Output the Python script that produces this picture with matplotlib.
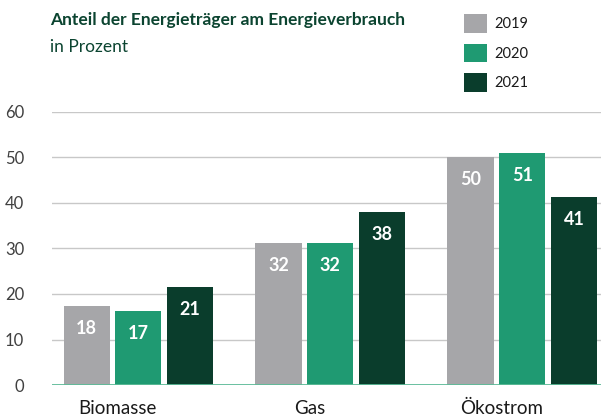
import matplotlib.pyplot as plt
import matplotlib.transforms as mtransforms
import numpy as np

plt.rcParams['font.family'] = ['Lato', 'DejaVu Sans']

categories = ['Biomasse', 'Gas', 'Ökostrom']
years = ['2019', '2020', '2021']
values_2019 = [17.4, 31.2, 50.0]
values_2020 = [16.3, 31.2, 51.0]
values_2021 = [21.5, 38.0, 41.3]
labels_2019 = ['18', '32', '50']
labels_2020 = ['17', '32', '51']
labels_2021 = ['21', '38', '41']

colors = ['#a6a6a9', '#1f9a72', '#0a3d2c']
title_color = '#0b4430'

fig = plt.figure(figsize=(6.01, 4.19), dpi=100)
ax = fig.add_axes([0.0865, 0.081, 0.9135, 0.652])

x = np.arange(len(categories))
bar_width = 0.24
step = 0.27

series = [(values_2019, labels_2019), (values_2020, labels_2020), (values_2021, labels_2021)]
for i, (vals, labs) in enumerate(series):
    bars = ax.bar(x + (i - 1) * step, vals, width=bar_width, color=colors[i], label=years[i], zorder=3)
    for b, lab in zip(bars, labs):
        ax.annotate(lab, (b.get_x() + b.get_width() / 2, b.get_height()),
                    xytext=(0, -16), textcoords='offset points', ha='center', va='center',
                    color='white', fontsize=13, fontweight='bold', zorder=4)

ax.set_xlim(-0.45, 2.41)
ax.set_ylim(0, 60)
ax.set_yticks(range(0, 61, 10))
ax.grid(axis='y', color='#c8c8c8', linewidth=1, zorder=0)
ax.axhline(0, color='#5dbb98', linewidth=2, zorder=5)
for s in ax.spines.values():
    s.set_visible(False)
ax.tick_params(axis='both', length=0, labelsize=12, colors='#404040')
ax.tick_params(axis='y', pad=20)
ax.set_xticks(x)
ax.set_xticklabels(categories, fontsize=13.5, color='#1a1a1a')
ax.tick_params(axis='x', pad=11)
shift = mtransforms.ScaledTranslation(-21 / 100, 0, fig.dpi_scale_trans)
for lbl in ax.get_xticklabels():
    lbl.set_transform(lbl.get_transform() + shift)

fig.text(0.083, 0.952, 'Anteil der Energieträger am Energieverbrauch', fontsize=12.5,
         fontweight='bold', color=title_color, va='center')
fig.text(0.083, 0.888, 'in Prozent', fontsize=12.5, color=title_color, va='center')

leg = ax.legend(loc='upper left', bbox_to_anchor=(0.74, 1.38), frameon=False,
                fontsize=10.5, handlelength=1.6, handleheight=1.6, labelspacing=0.75,
                handletextpad=0.45, borderaxespad=0)
for t in leg.get_texts():
    t.set_color('#1a1a1a')

fig.savefig('out.png', dpi=100)
